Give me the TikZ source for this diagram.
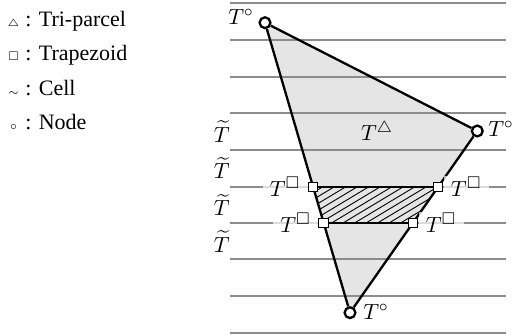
\documentclass[tikz,border=0pt]{standalone}
\usepackage{amssymb}
\usepackage{fontspec}
\setmainfont{Liberation Serif}
\begin{document}
\begin{tikzpicture}[x=0.5pt,y=-0.5pt,
  font=\fontsize{11}{13}\selectfont,
  gridline/.style={draw=black!45, line width=0.85pt},
  edge/.style={draw=black, line width=1.15pt, line join=round},
  nodecirc/.style={circle, draw=black, line width=1.15pt, fill=white, minimum size=5.4pt, inner sep=0pt},
  trapsq/.style={rectangle, draw=black, line width=0.5pt, fill=white, minimum size=4.6pt, inner sep=0pt},
  hatch/.style={draw=black, line width=0.45pt},
  lbl/.style={inner sep=0pt},
  sqlbl/.style={fill=white, fill opacity=0.7, text opacity=1, inner xsep=3.6pt, inner ysep=0.5pt},
  legend/.style={anchor=base west, inner sep=0pt},
  legsym/.style={anchor=base, inner sep=0pt, font=\fontsize{5}{6}\selectfont}]
\useasboundingbox (0,0) rectangle (516,336);

% key points
\coordinate (A) at (265,22.7);
\coordinate (B) at (477.3,131);
\coordinate (C) at (350,312.7);
\coordinate (P1) at (313.1,186.7);
\coordinate (P2) at (438.3,186.7);
\coordinate (P3) at (323.6,222.7);
\coordinate (P4) at (413.1,222.7);

% triangle fill
\fill[black!10] (A) -- (B) -- (C) -- cycle;

% hatching of the trapezoid
\begin{scope}
  \clip (P1) -- (P2) -- (P4) -- (P3) -- cycle;
  \foreach \k in {0,...,18} {
    \draw[hatch] (240+\k*11.5,222.7) -- ++(60,-36);
  }
\end{scope}

% horizontal lines
\foreach \y in {3.3,40.0,76.7,113.3,150.0,186.7,222.7,259.3,296.0,332.7} {
  \draw[gridline] (230,\y) -- (506,\y);
}

% legend
\node[legsym] (ls1) at (13.5,27) {$\triangle$};
\node[legend] (lt1) at (25,27) {: Tri-parcel};
\node[legsym] (ls2) at (13.5,61) {$\square$};
\node[legend] (lt2) at (25,61) {: Trapezoid};
\node[legsym] (ls3) at (13.5,96) {$\sim$};
\node[legend] (lt3) at (25,96) {: Cell};
\node[legsym] (ls4) at (13.5,130) {$\circ$};
\node[legend] (lt4) at (25,130) {: Node};

% corner nodes
\node[nodecirc] (nA) at (A) {};
\node[nodecirc] (nB) at (B) {};
\node[nodecirc] (nC) at (C) {};

% edges
\draw[edge] (nA) -- (nB);
\draw[edge] (nB) -- (nC);
\draw[edge] (nC) -- (nA);
\draw[edge] (P1) -- (P2);
\draw[edge] (P3) -- (P4);

% trapezoid corners
\node[trapsq] (s1) at (P1) {};
\node[trapsq] (s2) at (P2) {};
\node[trapsq] (s3) at (P3) {};
\node[trapsq] (s4) at (P4) {};

% square labels
\node[sqlbl, anchor=east] (q1) at (s1.west) {$T^{\square}$};
\node[sqlbl, anchor=west] (q2) at (s2.east) {$T^{\square}$};
\node[sqlbl, anchor=east] (q3) at (s3.west) {$T^{\square}$};
\node[sqlbl, anchor=west] (q4) at (s4.east) {$T^{\square}$};

% node labels
\node[lbl] (tA) at (241,17) {$T^{\circ}$};
\node[lbl] (tB) at (501,129) {$T^{\circ}$};
\node[lbl] (tC) at (376,312) {$T^{\circ}$};
\node[lbl] (tT) at (377,131) {$T^{\triangle}$};

% cell labels
\node[lbl] (c1) at (221.7,131.7) {$\widetilde{T}$};
\node[lbl] (c2) at (221.7,168.3) {$\widetilde{T}$};
\node[lbl] (c3) at (221.7,205.0) {$\widetilde{T}$};
\node[lbl] (c4) at (221.7,241.7) {$\widetilde{T}$};
\end{tikzpicture}
\end{document}
